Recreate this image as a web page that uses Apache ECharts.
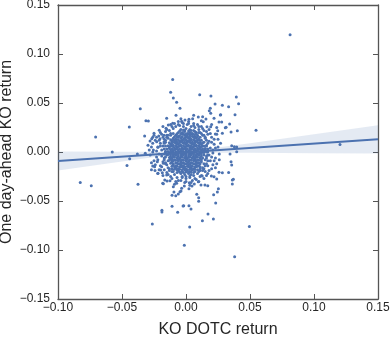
<!DOCTYPE html>
<html>
<head>
<meta charset="utf-8">
<script src="https://cdn.jsdelivr.net/npm/echarts@6/dist/echarts.min.js"></script>
<style>
  html, body { margin: 0; padding: 0; background: #fff; }
  #chart { width: 390px; height: 339px; }
</style>
</head>
<body>
<div id="chart"></div>
<script>
// all returns below are in units of 0.001
// outliers and the loose halo
const sparsePoints = [
  [81.3,119.7],[-10.4,74.1],[-12.0,60.9],[-9.9,55.1],[-7.3,50.7],[-4.7,44.6],[-35.7,44.2],[10.7,58.5],
  [19.5,57.1],[39.3,56.1],[41.1,49.3],[28.4,47.6],[33.3,46.3],[22.7,49.0],[19.0,44.6],[18.2,42.1],
  [19.3,39.5],[-31.3,32.0],[-29.4,31.6],[-44.3,25.5],[-70.6,15.3],[-32.3,16.3],[54.7,22.1],[38.3,38.1],
  [26.8,37.8],[34.1,28.6],[35.2,20.4],[40.1,21.7],[-57.6,0.0],[-38.0,-2.0],[-31.8,-1.4],[-44.0,-6.8],
  [-46.1,-13.9],[120.3,7.6],[-82.6,-31.0],[-74.0,-34.4],[-37.5,-33.0],[-26.3,-73.5],[-18.8,-59.5],[-18.8,-61.2],
  [-1.3,-95.2],[2.9,-76.5],[12.8,-70.1],[21.4,-68.4],[17.2,-63.3],[23.2,-52.0],[9.9,-46.6],[9.9,-50.3],
  [-6.5,-61.6],[-10.9,-55.4],[-2.3,-55.1],[3.9,-58.2],[49.5,-75.9],[38.0,-106.8],[36.2,-28.6],[36.2,-32.7],
  [33.3,-20.9],[37.8,5.4],[39.6,0.3],[21.6,-43.5],[25.3,-37.4],[24.5,-40.8],[-10.9,-44.2],[-4.7,-40.5],
  [27.1,38.1],[21.9,34.4],[25.8,30.6],[27.9,30.6],[30.7,24.8],[24.8,21.7],[15.6,33.7],[13.0,36.0],
  [9.6,35.7],[6.0,37.4],[5.2,34.0],[2.3,33.4],[-0.8,32.7],[-7.8,37.4],[-3.4,31.3],[-15.1,34.4],
  [-13.8,27.6],[-10.4,29.3],[-15.6,24.2],[-20.9,22.1],[-25.0,19.1],[-26.8,13.6],[-20.3,13.6],[-17.2,17.0],
  [13.5,30.9],[16.4,25.8],[19.3,25.8],[22.9,18.4],[28.4,19.1],[31.3,25.2],
  [-21.3,16.3],[-28.7,2.0],[-29.7,6.8],[-28.1,11.2],[-26.0,15.0],[-22.9,10.5],[-25.5,2.0],[-21.9,4.8],
  [-17.2,10.2],[-24.5,-15.0],[-22.4,-9.9],[-26.0,-14.3],[-19.8,-18.4],[-21.9,-21.7],[-17.7,-11.5],[-15.1,-23.5],
  [-16.6,-28.6],[-18.2,-32.0],
  [-24.2,-19.0],[-18.5,-21.1],[-17.7,-32.3],[-14.8,-29.6],[-9.9,-35.4],[-8.0,-44.6],[-9.4,-40.8],[-6.0,-42.9],
  [-3.9,-39.8],[-1.3,-34.7],[2.3,-37.4],[4.7,-34.7],[8.4,-43.2],[-1.8,-54.8],[2.3,-54.8],[17.0,-34.4],
  [14.8,-33.7],[11.7,-33.7],[24.0,-27.6],[21.9,-25.2],[19.8,-24.5],[25.8,-20.7],[28.4,-21.1],[12.7,-24.5],
  [9.6,-30.3],[6.5,-32.7],[2.6,-31.3],[-3.4,-37.1],[-12.5,-29.3],[-7.3,-32.0],
  [35.7,6.4],[39.6,5.1],[34.4,-2.0],[35.2,-9.9],[35.7,-13.3],[37.0,-27.9]
];

// points hugging the dense core
const haloPoints = [
  [-14,14],[-16,10],[-15,17],[-12,19],[-18,6],[-17,13],[-13,22],[-10,24],[-20,9],[-19,2],[-16,0],[-15,-3],
  [-17,-6],[-21,-2],[-14,-9],[-16,-12],[-13,-17],[-11,-20],[-9,-23],[-18,-10],[-20,-14],[-12,-25],[-7,-26],
  [-15,-21],[-22,5],[-23,-5],[-24,12],
  [-8,26],[-5,27],[-2,26],[1,28],[4,26],[7,25],[10,23],[-3,30],[2,31],[6,29],[-6,31],[9,28],[12,26],[11,20],
  [13,17],[15,14],[14,10],[16,7],[15,3],[17,0],[16,-4],[15,-8],[14,-12],[13,-16],[11,-19],[9,-22],[6,-24],
  [3,-26],[0,-27],[-3,-26],[5,-29],[-1,-31],[8,-28],[12,-24],[15,-20],[17,-14],[19,-9],[18,-3],[19,4],[18,11],
  [17,18],[14,22],[20,15],[21,-1],[22,8],[23,-6],[20,-17],[-19,18],[-9,29],[10,-30],[-6,-29],[18,23],[25,5],
  [-26,0],[-25,-9],[24,-12],[14,-27],[-12,28],
  [-19,-4],[-20,6],[-21,12],[-18,15],[-22,-8],[-19,-15],[-21,-18],[-23,1],[-24,-13],[-27,5],[-26,9],[-18,-24],
  [-20,20],[-16,21],[-17,-18],[-14,-23],[-11,-27],[-8,-30],[-4,-29],[0,-30],[4,-31],[7,-27],[11,-25],[16,-24],
  [18,-19],[21,-13],[22,-9],[20,-5],[21,2],[23,4],[20,10],[22,13],[19,19],[16,21],[13,24],[10,26],[6,27],
  [2,29],[-2,29],[-6,28],[-11,26],[-15,23],[-23,15],[-25,17],[-28,-3],[-27,-11],[26,-2],[27,9],[25,13],
  [24,18],[26,-8],[23,-16],[17,-22],[-9,-33],[3,-34],[12,32],[-4,34],[20,28],[-18,26],[-22,-22],[24,25],[-27,-18]
];

// solid core of the cloud
const corePoints = [
  [-4,23],[0,24],[3,23],[-1,22],[6,22],
  [-6,20],[-3,20],[-1,21],[1,19],[3,20],[5,19],[8,20],
  [-8,17],[-6,16],[-3,18],[-1,17],[1,16],[3,17],[5,18],[7,16],[9,17],
  [-10,14],[-8,13],[-6,15],[-4,14],[-2,13],[0,15],[2,14],[4,13],[6,15],[8,14],[10,13],
  [-11,11],[-9,12],[-7,10],[-5,11],[-3,12],[-1,10],[1,11],[3,12],[5,10],[7,11],[9,12],[11,10],
  [-12,8],[-10,7],[-8,9],[-6,8],[-4,7],[-2,9],[0,8],[2,7],[4,9],[6,8],[8,7],[10,9],[12,8],
  [-13,5],[-11,6],[-9,4],[-7,5],[-5,6],[-3,4],[-1,5],[1,6],[3,4],[5,5],[7,6],[9,4],[11,5],[13,6],
  [-12,2],[-10,1],[-8,3],[-6,2],[-4,1],[-2,3],[0,2],[2,1],[4,3],[6,2],[8,1],[10,3],[12,2],[14,1],
  [-13,-1],[-11,0],[-9,-2],[-7,-1],[-5,0],[-3,-2],[-1,-1],[1,0],[3,-2],[5,-1],[7,0],[9,-2],[11,-1],[13,0],
  [-12,-4],[-10,-5],[-8,-3],[-6,-4],[-4,-5],[-2,-3],[0,-4],[2,-5],[4,-3],[6,-4],[8,-5],[10,-3],[12,-4],
  [-12,-7],[-9,-8],[-7,-6],[-5,-7],[-3,-8],[-1,-6],[1,-7],[3,-8],[5,-6],[7,-7],[9,-8],[11,-6],
  [-11,-10],[-8,-11],[-6,-9],[-4,-10],[-2,-11],[0,-9],[2,-10],[4,-11],[6,-9],[8,-10],[10,-11],[12,-10],
  [-10,-13],[-8,-14],[-6,-12],[-4,-13],[-2,-14],[0,-12],[2,-13],[4,-14],[6,-12],[8,-13],[10,-14],
  [-8,-16],[-6,-17],[-4,-15],[-2,-16],[0,-17],[2,-15],[4,-16],[6,-17],[8,-15],
  [-6,-19],[-3,-20],[-1,-18],[1,-19],[3,-20],[5,-18],[7,-20],
  [-4,-22],[-1,-23],[2,-22],[4,-23]
];

// second layer that fills the gaps of the core
const coreFill = [
  [-5,21.5],[-2,22.5],[2,21.5],[4,22],[7,21],
  [-7,18.5],[-4,19],[-2,18.5],[0,18],[2,18.5],[4,19],[6,18],[8,18.5],
  [-9,15.5],[-7,15],[-5,16.5],[-3,15.5],[-1,14.5],[1,15.5],[3,15],[5,16],[7,14.5],[9,15.5],[11,15],
  [-12,12.5],[-10,12],[-8,11.5],[-6,12.5],[-4,11.5],[-2,12],[0,12.5],[2,11.5],[4,12],[6,12.5],[8,11.5],[10,12.5],[12,12],
  [-13,9.5],[-11,9],[-9,10],[-7,8.5],[-5,9.5],[-3,10],[-1,9],[1,9.5],[3,10],[5,8.5],[7,9.5],[9,10],[11,8.5],[13,9.5],
  [-14,6.5],[-12,6],[-10,5.5],[-8,6.5],[-6,5.5],[-4,6],[-2,6.5],[0,5.5],[2,6],[4,6.5],[6,5.5],[8,6],[10,6.5],[12,5.5],[14,6],
  [-15,3],[-13,3.5],[-11,3],[-9,2.5],[-7,3.5],[-5,3],[-3,2.5],[-1,3.5],[1,3],[3,2.5],[5,3.5],[7,3],[9,2.5],[11,3.5],[13,3],[15,3.5],
  [-14,0.5],[-12,0],[-10,-1],[-8,0.5],[-6,0],[-4,-0.5],[-2,0.5],[0,0],[2,-0.5],[4,0.5],[6,0],[8,-0.5],[10,0.5],[12,0],[14,-0.5],
  [-14,-2.5],[-12,-2],[-10,-3],[-8,-2.5],[-6,-2],[-4,-3],[-2,-2.5],[0,-2],[2,-3],[4,-2.5],[6,-2],[8,-3],[10,-2.5],[12,-2],[14,-3],
  [-13,-5.5],[-11,-6],[-9,-5],[-7,-5.5],[-5,-6],[-3,-5],[-1,-5.5],[1,-6],[3,-5],[5,-5.5],[7,-6],[9,-5],[11,-5.5],[13,-6],
  [-13,-8.5],[-11,-8],[-10,-9],[-8,-8.5],[-6,-8],[-4,-9],[-2,-8.5],[0,-8],[2,-9],[4,-8.5],[6,-8],[8,-9],[10,-8.5],[12,-8],
  [-12,-11.5],[-10,-12],[-7,-11.5],[-5,-12],[-3,-11.5],[-1,-12],[1,-11.5],[3,-12],[5,-11.5],[7,-12],[9,-11.5],[11,-12],
  [-11,-14.5],[-9,-15],[-7,-14.5],[-5,-15],[-3,-14.5],[-1,-15],[1,-14.5],[3,-15],[5,-14.5],[7,-15],[9,-14.5],[11,-15],
  [-9,-17.5],[-7,-18],[-5,-17.5],[-3,-18],[-1,-17.5],[1,-18],[3,-17.5],[5,-18],[7,-17.5],[9,-18],
  [-7,-21],[-5,-20.5],[-2,-21],[0,-20.5],[2,-21],[4,-20.5],[6,-21],
  [-3,-25],[0,-25],[3,-24.5]
];

// the rounded flanks of the core
const coreEdge = [
  [-16,12],[-17,9],[-16,6],[-17,3],[-16,0.5],[-17,-2],[-16,-5],[-17,-8],[-16,-11],[-15,-13],[-14,-16],[-13,-19],
  [16,12],[17,9],[16,6],[17,3],[16,0],[17,-3],[16,-6],[17,-9],[16,-12],[15,-14],[14,-17],[13,-19],
  [15,15],[14,17],[12,19],[10,20],[-14,17],[-12,17],[-10,19],[-15,15],[-11,-17],[11,-17],[-10,-20],[10,-20]
];

// regression fit and its confidence band
const fitX = [-0.10, 0.15];
const fitY = [-0.0091, 0.0129];
const bandX = [-0.10, -0.05, -0.02, 0.00, 0.02, 0.05, 0.10, 0.15];
const bandLo = [-0.0188, -0.0096, -0.0043, -0.0017, -0.0007, -0.0008, -0.0012, -0.0015];
const bandHi = [0.0006, 0.0002, 0.0002, 0.0011, 0.0037, 0.0090, 0.0182, 0.0273];

const xTicks = { min: -0.10, max: 0.15, step: 0.05 };
const yTicks = { min: -0.15, max: 0.15, step: 0.05 };

const blue = '#4C72B0';
const frame = '#555555';
const font = 'Liberation Sans, Arial, sans-serif';

const scatterData = sparsePoints.concat(haloPoints, corePoints, coreFill, coreEdge)
  .map(p => [p[0] / 1000, p[1] / 1000]);
const fitData = fitX.map((x, i) => [x, fitY[i]]);

const fmt = v => (Math.abs(v) < 1e-9 ? 0 : v).toFixed(2).replace('-', '\u2212');

var chartDom = document.getElementById('chart');
var myChart = echarts.init(chartDom, null, { renderer: 'canvas' });

const frameAxis = (extra) => Object.assign({
  type: 'value',
  splitLine: { show: false },
  axisLine: { show: true, onZero: false, lineStyle: { color: frame, width: 1.3 } },
  axisTick: { show: true, inside: true, length: 5, lineStyle: { color: frame, width: 1 } },
  axisLabel: { show: false }
}, extra);

var option = {
  animation: false,
  grid: { left: 58, right: 12, top: 5, bottom: 40, containLabel: false, outerBoundsMode: 'none' },
  xAxis: [
    frameAxis({
      position: 'bottom', min: xTicks.min, max: xTicks.max, interval: xTicks.step,
      axisLabel: { show: true, margin: 3, color: '#262626', fontSize: 12, fontFamily: font, formatter: fmt },
      name: 'KO DOTC return', nameLocation: 'middle', nameGap: 23, nameMoveOverlap: false,
      nameTextStyle: { color: '#262626', fontSize: 16, fontFamily: font }
    }),
    frameAxis({ position: 'top', min: xTicks.min, max: xTicks.max, interval: xTicks.step })
  ],
  yAxis: [
    frameAxis({
      position: 'left', min: yTicks.min, max: yTicks.max, interval: yTicks.step,
      axisLabel: { show: true, margin: 8, color: '#262626', fontSize: 12, fontFamily: font, formatter: fmt },
      name: 'One day-ahead KO return', nameLocation: 'middle', nameGap: 43, nameMoveOverlap: false,
      nameTextStyle: { color: '#262626', fontSize: 16, fontFamily: font }
    }),
    frameAxis({ position: 'right', min: yTicks.min, max: yTicks.max, interval: yTicks.step })
  ],
  series: [
    {
      type: 'custom',
      z: 1,
      silent: true,
      data: [[0, 0]],
      renderItem: function (params, api) {
        var pts = [];
        bandX.forEach((x, i) => pts.push(api.coord([x, bandHi[i]])));
        for (var i = bandX.length - 1; i >= 0; i--) pts.push(api.coord([bandX[i], bandLo[i]]));
        return {
          type: 'polygon',
          shape: { points: pts },
          style: { fill: 'rgba(76,114,176,0.15)' }
        };
      }
    },
    {
      type: 'scatter',
      z: 2,
      data: scatterData,
      symbolSize: 3,
      itemStyle: { color: blue, opacity: 1 },
      silent: true
    },
    {
      type: 'line',
      z: 3,
      data: fitData,
      showSymbol: false,
      lineStyle: { color: blue, width: 2 },
      silent: true
    }
  ]
};

option && myChart.setOption(option);
</script>
</body>
</html>
